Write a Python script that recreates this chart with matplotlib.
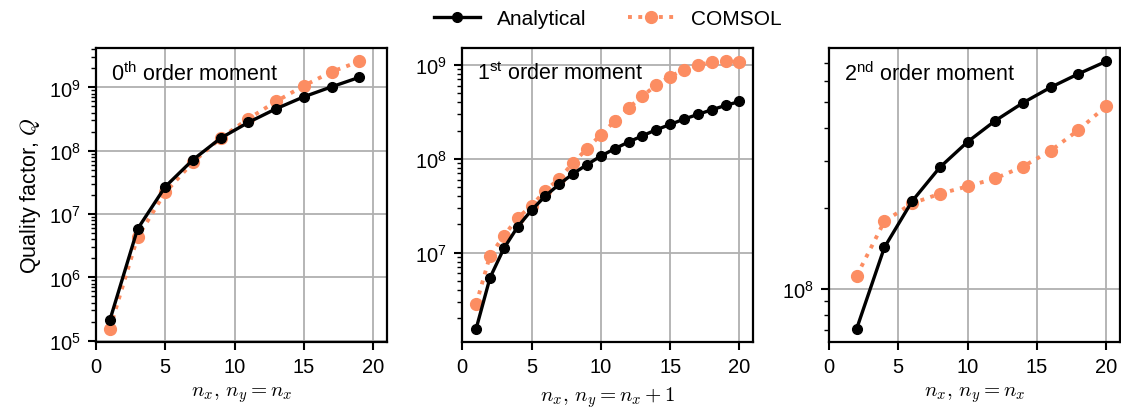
import numpy as np
import matplotlib.pyplot as plt

plt.rcParams['font.family'] = ['Liberation Sans', 'DejaVu Sans']
plt.rcParams['mathtext.fontset'] = 'cm'
plt.rcParams['font.size'] = 15.5

# 0th order moment, n_y = n_x
nx0 = [1, 3, 5, 7, 9, 11, 13, 15, 17, 19]
q0_ana = [2.1e5, 5.8e6, 2.7e7, 7.2e7, 1.58e8, 2.8e8, 4.6e8, 7.1e8, 1.02e9, 1.44e9]
q0_com = [1.55e5, 4.3e6, 2.2e7, 6.6e7, 1.58e8, 3.2e8, 6.0e8, 1.06e9, 1.76e9, 2.57e9]

# 1st order moment, n_y = n_x + 1
nx1 = list(range(1, 21))
q1_ana = [1.55e6, 5.4e6, 1.11e7, 1.89e7, 2.84e7, 4.03e7, 5.36e7, 6.95e7, 8.67e7, 1.07e8,
          1.28e8, 1.51e8, 1.76e8, 2.04e8, 2.32e8, 2.65e8, 2.97e8, 3.33e8, 3.70e8, 4.08e8]
q1_com = [2.83e6, 9.3e6, 1.51e7, 2.35e7, 3.16e7, 4.59e7, 6.15e7, 9.1e7, 1.28e8, 1.81e8,
          2.52e8, 3.49e8, 4.64e8, 6.13e8, 7.52e8, 8.92e8, 1.0e9, 1.07e9, 1.09e9, 1.08e9]

# 2nd order moment, n_y = n_x
nx2 = [2, 4, 6, 8, 10, 12, 14, 16, 18, 20]
q2_ana = [7.1e7, 1.43e8, 2.13e8, 2.85e8, 3.55e8, 4.26e8, 4.97e8, 5.68e8, 6.38e8, 7.1e8]
q2_com = [1.12e8, 1.79e8, 2.09e8, 2.27e8, 2.42e8, 2.59e8, 2.87e8, 3.29e8, 3.93e8, 4.83e8]

titles = [r'$\mathdefault{0^{th}}$ order moment',
          r'$\mathdefault{1^{st}}$ order moment',
          r'$\mathdefault{2^{nd}}$ order moment']
xlabels = [r'$n_x,\, n_y = n_x$', r'$n_x,\, n_y = n_x + 1$', r'$n_x,\, n_y = n_x$']
data = [(nx0, q0_ana, q0_com), (nx1, q1_ana, q1_com), (nx2, q2_ana, q2_com)]

orange = '#fc8d62'

fig = plt.figure(figsize=(11.21, 4.14), dpi=100)
lefts = [0.0856, 0.4124, 0.7395]
w = 0.2596
axes = []
for k in range(3):
    ax = fig.add_axes([lefts[k], 0.1715, w, 0.710])
    x, qa, qc = data[k]
    ax.plot(x, qa, '-o', color='black', lw=2.4, ms=7, label='Analytical', zorder=3)
    ax.plot(x, qc, ':o', color=orange, lw=2.8, ms=8.5, label='COMSOL', zorder=2)
    ax.set_yscale('log')
    ax.set_xlim(0, 21)
    ax.set_xticks([0, 5, 10, 15, 20])
    ax.grid(True, which='major', color='#b0b0b0', lw=1.3)
    ax.set_axisbelow(True)
    for s in ax.spines.values():
        s.set_linewidth(1.6)
    ax.tick_params(which='major', length=6, width=1.5, pad=5, labelsize=14.5)
    ax.tick_params(which='minor', length=3.5, width=1.0)
    ax.set_xlabel(xlabels[k], fontsize=15, labelpad=6)
    ax.text(0.05, 0.915, titles[k], transform=ax.transAxes, va='center', ha='left', fontsize=15.5)
    axes.append(ax)

axes[0].set_ylabel(r'Quality factor, $Q$', fontsize=15.5)

# legend centred over the middle panel
h, l = axes[0].get_legend_handles_labels()
fig.legend(h, l, loc='upper center', bbox_to_anchor=(lefts[1] + w / 2, 1.02), ncol=2,
           frameon=False, fontsize=15, columnspacing=2.0, handlelength=2.2)

fig.savefig('out.png', dpi=100)
